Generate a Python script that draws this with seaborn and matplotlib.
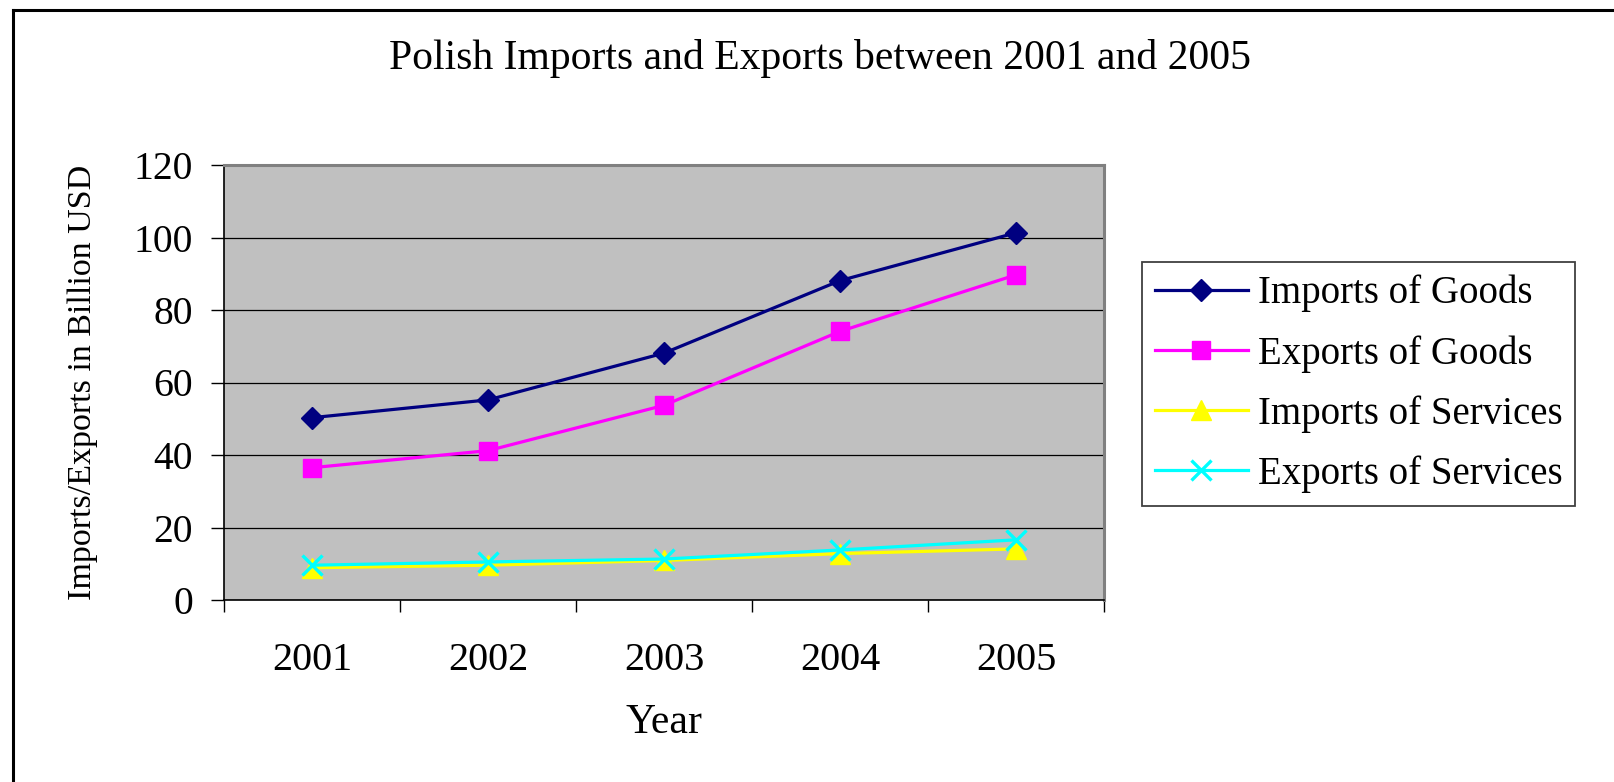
import matplotlib
matplotlib.use("Agg")
import matplotlib.pyplot as plt
import seaborn as sns
from matplotlib.lines import Line2D
from matplotlib.ticker import FixedLocator, FixedFormatter, NullFormatter

# Values in billion USD
years = [2001, 2002, 2003, 2004, 2005]
imports_goods = [50.3, 55.2, 68.1, 88.1, 101.3]
exports_goods = [36.5, 41.2, 53.7, 74.1, 89.7]
imports_services = [8.9, 9.6, 10.9, 12.8, 14.1]
exports_services = [9.6, 10.5, 11.3, 13.8, 16.6]
series_names = ["Imports of Goods", "Exports of Goods",
                "Imports of Services", "Exports of Services"]
y_ticks = [0, 20, 40, 60, 80, 100, 120]

plt.rcParams["font.family"] = ["Liberation Serif", "DejaVu Serif"]

W, H = 1614, 782
fig = plt.figure(figsize=(W / 100, H / 100), dpi=100)
fig.patch.set_facecolor("white")

# plot area in pixel units converted to figure fractions
left, right, top, bottom = 224, 1104, 165, 600
ax = fig.add_axes([left / W, 1 - bottom / H, (right - left) / W, (bottom - top) / H])
ax.set_facecolor("#C0C0C0")

styles = [
    ("#000080", "D", 10.9, 1.0),
    ("#FF00FF", "s", 13.5, 1.0),
    ("#FFFF00", "^", 15.0, 1.0),
    ("#00FFFF", "x", 15.0, 2.4),
]
all_values = [imports_goods, exports_goods, imports_services, exports_services]

for name, vals, (color, marker, ms, mew) in zip(series_names, all_values, styles):
    sns.lineplot(x=years, y=vals, ax=ax, color=color, marker=marker,
                 markersize=ms, markeredgecolor=color, markerfacecolor=color,
                 markeredgewidth=mew, linewidth=2.3, label=name, zorder=3)

# axes limits and ticks
ax.set_ylim(y_ticks[0], y_ticks[-1])
ax.set_yticks(y_ticks)
ax.set_xlim(years[0] - 0.5, years[-1] + 0.5)
boundaries = [y - 0.5 for y in years] + [years[-1] + 0.5]
ax.xaxis.set_major_locator(FixedLocator(boundaries))
ax.xaxis.set_major_formatter(NullFormatter())
ax.xaxis.set_minor_locator(FixedLocator(years))
ax.xaxis.set_minor_formatter(FixedFormatter([str(y) for y in years]))

ax.tick_params(axis="y", which="major", left=True, length=9.4, width=1.0,
               color="black", pad=13.0, labelsize=28.5)
ax.tick_params(axis="x", which="major", bottom=True, length=8.6, width=1.0,
               color="black", direction="out")
ax.tick_params(axis="x", which="minor", bottom=True, length=0, pad=30,
               labelsize=29)

ax.yaxis.grid(True, color="black", linewidth=0.9)
ax.xaxis.grid(False)
ax.set_axisbelow(True)

for side in ("top", "right"):
    ax.spines[side].set_color("#808080")
    ax.spines[side].set_linewidth(2.2)
for side in ("left", "bottom"):
    ax.spines[side].set_color("black")
    ax.spines[side].set_linewidth(1.2)

ax.set_xlabel("Year", fontsize=30)
ax.xaxis.set_label_coords(0.5, (bottom - 723) / (bottom - top))
ax.xaxis.label.set_verticalalignment("center")
ax.set_ylabel("Imports/Exports in Billion USD", fontsize=24.5)
ax.yaxis.set_label_coords((83 - left) / (right - left), 0.5)
ax.yaxis.label.set_verticalalignment("center")

fig.text(820 / W, 1 - 59 / H, "Polish Imports and Exports between 2001 and 2005",
         ha="center", va="center", fontsize=30)

leg = ax.legend(loc="upper left", bbox_to_anchor=(1142 / W, 1 - 262 / H),
                bbox_transform=fig.transFigure, frameon=True, fancybox=False,
                fontsize=28, handlelength=2.39, handletextpad=0.26,
                borderpad=0.33, labelspacing=0.58, borderaxespad=0)
leg.get_frame().set_edgecolor("#404040")
leg.get_frame().set_linewidth(1.3)
leg.get_frame().set_facecolor("white")
leg.get_frame().set_alpha(1)

# outer chart border (top and left edges)
bx, by = 12.5 / W, 1 - 9.5 / H
fig.add_artist(Line2D([bx, 1], [by, by], transform=fig.transFigure,
                      color="black", linewidth=2.2))
fig.add_artist(Line2D([bx, bx], [0, by], transform=fig.transFigure,
                      color="black", linewidth=2.2))

fig.savefig("out.png", dpi=100)
